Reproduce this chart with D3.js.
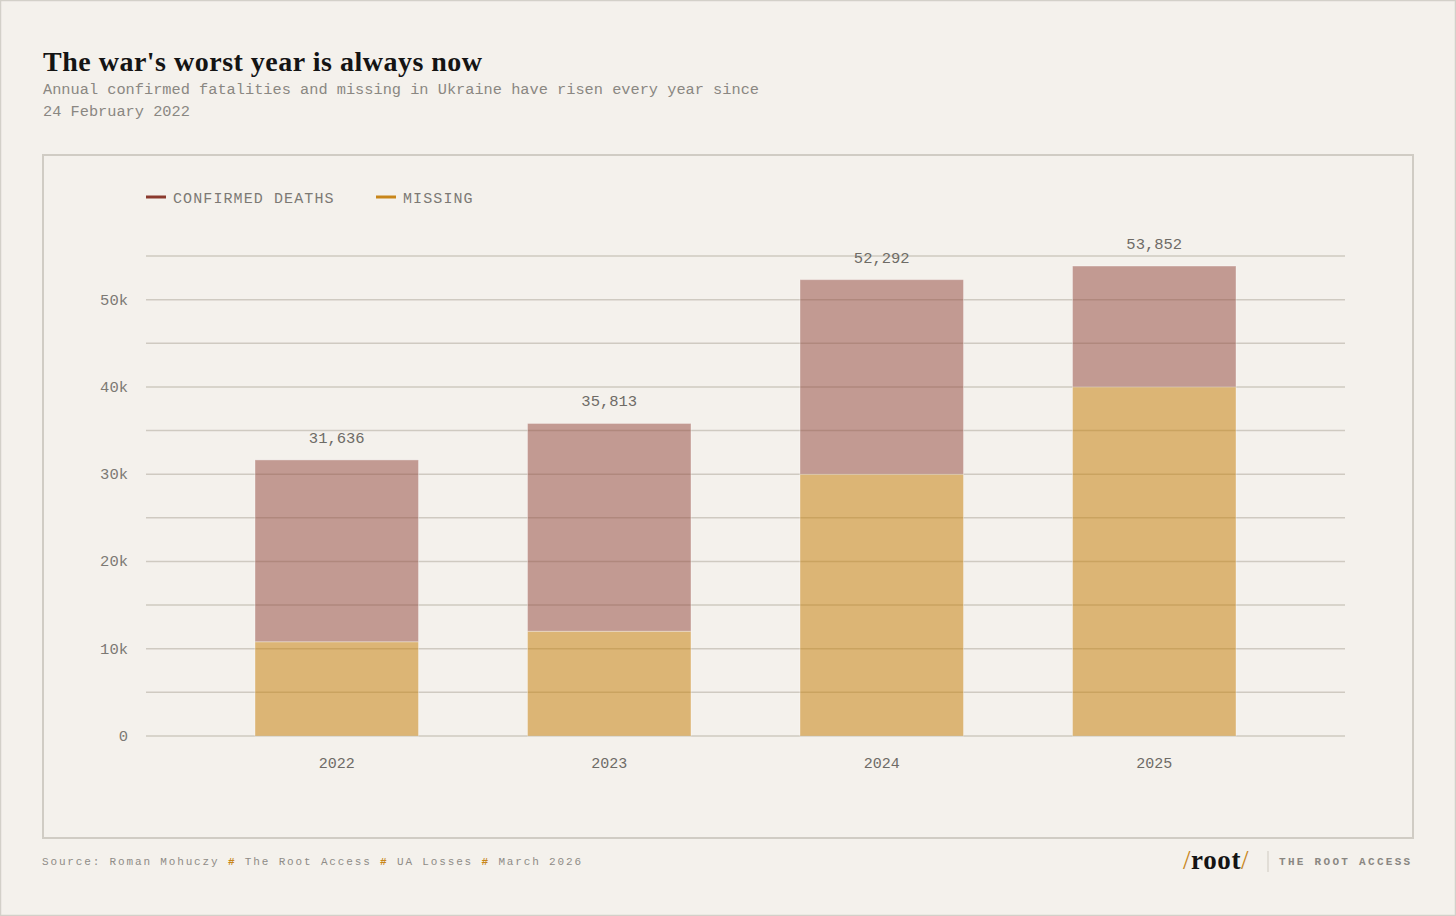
<!DOCTYPE html>
<html>
<head>
<meta charset="utf-8">
<script src="https://cdn.jsdelivr.net/npm/d3@7"></script>
<style>
  html, body { margin: 0; padding: 0; background: #f4f1ec; }
  svg { display: block; }
</style>
</head>
<body>
<svg id="chart" width="1456" height="916"></svg>
<script>
// chart values
const years = ["2022", "2023", "2024", "2025"];
const missing = [10800, 12000, 30000, 40000];
const deaths = [20836, 23813, 22292, 13852];
const totals = [31636, 35813, 52292, 53852];
const yTicks = [0, 10000, 20000, 30000, 40000, 50000];
const gridTicks = [0, 5000, 10000, 15000, 20000, 25000, 30000, 35000, 40000, 45000, 50000, 55000];

const svg = d3.select("#chart");
const mono = "'Liberation Mono', 'DejaVu Sans Mono', monospace";
const serif = "'Liberation Serif', 'DejaVu Serif', serif";
const red = "#8b3a2e", orange = "#c8861a";

// page frame + panel
svg.append("rect").attr("x", 0.5).attr("y", 0.5).attr("width", 1455).attr("height", 915)
    .attr("fill", "#f4f1ec").attr("stroke", "#d3d0c9").attr("stroke-width", 1.5);
svg.append("rect").attr("x", 43).attr("y", 155).attr("width", 1370).attr("height", 683)
    .attr("fill", "none").attr("stroke", "#d0ccc4").attr("stroke-width", 2);

// header
svg.append("text").attr("x", 43).attr("y", 71)
    .attr("font-family", serif).attr("font-weight", "bold").attr("font-size", "28px")
    .attr("fill", "#141414").attr("letter-spacing", "0.5px")
    .text("The war's worst year is always now");
["Annual confirmed fatalities and missing in Ukraine have risen every year since", "24 February 2022"]
    .forEach((t, i) => {
        svg.append("text").attr("x", 43).attr("y", 94 + i * 22)
            .attr("font-family", mono).attr("font-size", "15.3px").attr("fill", "#8a8782")
            .text(t);
    });

// legend
const legend = [{label: "CONFIRMED DEATHS", color: red, x: 146}, {label: "MISSING", color: orange, x: 376}];
legend.forEach(d => {
    svg.append("line").attr("x1", d.x).attr("x2", d.x + 20).attr("y1", 197).attr("y2", 197)
        .attr("stroke", d.color).attr("stroke-width", 3);
    svg.append("text").attr("x", d.x + 27).attr("y", 203)
        .attr("font-family", mono).attr("font-size", "15px").attr("letter-spacing", "1.1px")
        .attr("fill", "#7c7974").text(d.label);
});

// scales
const x = d3.scaleBand().domain(years).range([146, 1345]).padding(0.4);
const y = d3.scaleLinear().domain([0, 55000]).range([736, 256]);

// grid
svg.append("g").selectAll("line").data(gridTicks).enter().append("line")
    .attr("x1", 146).attr("x2", 1345)
    .attr("y1", d => y(d)).attr("y2", d => y(d))
    .attr("stroke", "#cfcac1").attr("stroke-width", 1.5);

// y labels
svg.append("g").selectAll("text").data(yTicks).enter().append("text")
    .attr("x", 128).attr("y", d => y(d) + 5)
    .attr("text-anchor", "end")
    .attr("font-family", mono).attr("font-size", "15.5px").attr("fill", "#7c7974")
    .text(d => d === 0 ? "0" : (d / 1000) + "k");

// stacked bars
const rows = years.map((yr, i) => ({year: yr, missing: missing[i], deaths: deaths[i], total: totals[i]}));
const stack = d3.stack().keys(["missing", "deaths"])(rows);
const fills = {missing: "#c67f08", deaths: "#944a3f"};
svg.append("g").selectAll("g").data(stack).enter().append("g")
    .attr("fill", d => fills[d.key]).attr("fill-opacity", 0.52)
    .selectAll("rect").data(d => d).enter().append("rect")
    .attr("x", d => x(d.data.year))
    .attr("width", x.bandwidth())
    .attr("y", d => y(d[1]))
    .attr("height", d => y(d[0]) - y(d[1]))
    .attr("stroke", "rgba(255,255,255,0.35)").attr("stroke-width", 1);

// value labels
svg.append("g").selectAll("text").data(rows).enter().append("text")
    .attr("x", d => x(d.year) + x.bandwidth() / 2)
    .attr("y", d => y(d.total) - 17)
    .attr("text-anchor", "middle")
    .attr("font-family", mono).attr("font-size", "15.5px").attr("fill", "#6e6b66")
    .text(d => d3.format(",")(d.total));

// x labels
svg.append("g").selectAll("text").data(years).enter().append("text")
    .attr("x", d => x(d) + x.bandwidth() / 2)
    .attr("y", 768)
    .attr("text-anchor", "middle")
    .attr("font-family", mono).attr("font-size", "15px").attr("fill", "#6e6b66")
    .text(d => d);

// footer source
const src = svg.append("text").attr("x", 42).attr("y", 865)
    .attr("font-family", mono).attr("font-size", "11px").attr("letter-spacing", "1.85px")
    .attr("fill", "#8f8c87");
const parts = ["Source: Roman Mohuczy ", "# ", "The Root Access ", "# ", "UA Losses ", "# ", "March 2026"];
parts.forEach(p => {
    src.append("tspan").attr("fill", p === "# " ? orange : null)
        .attr("font-weight", p === "# " ? "bold" : null).text(p);
});

// footer logo
const logo = svg.append("text").attr("x", 1183).attr("y", 869)
    .attr("font-family", serif).attr("font-weight", "bold").attr("font-size", "27px")
    .attr("letter-spacing", "0.6px").attr("fill", "#141414");
logo.append("tspan").attr("fill", orange).attr("font-weight", "normal").text("/");
logo.append("tspan").text("root");
logo.append("tspan").attr("fill", orange).attr("font-weight", "normal").text("/");
svg.append("line").attr("x1", 1268).attr("x2", 1268).attr("y1", 851).attr("y2", 872)
    .attr("stroke", "#cfcac1").attr("stroke-width", 1);
svg.append("text").attr("x", 1279).attr("y", 865)
    .attr("font-family", mono).attr("font-weight", "bold").attr("font-size", "11px")
    .attr("letter-spacing", "2.3px").attr("fill", "#8a8782")
    .text("THE ROOT ACCESS");
</script>
</body>
</html>
